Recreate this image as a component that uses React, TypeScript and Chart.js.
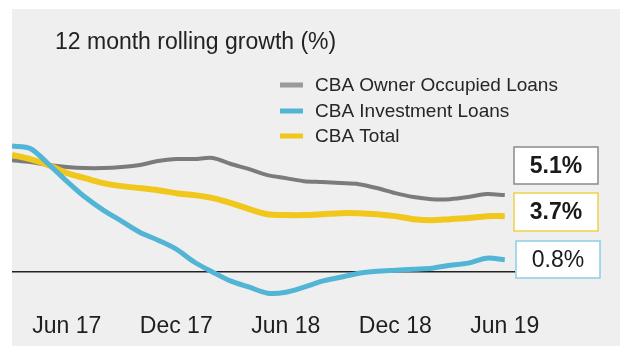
import React, { useEffect, useRef } from "react";
import { Chart, registerables } from "chart.js";

Chart.register(...registerables);

const months = [
  "Mar 17", "Apr 17", "May 17", "Jun 17", "Jul 17", "Aug 17", "Sep 17", "Oct 17", "Nov 17", "Dec 17",
  "Jan 18", "Feb 18", "Mar 18", "Apr 18", "May 18", "Jun 18", "Jul 18", "Aug 18", "Sep 18", "Oct 18",
  "Nov 18", "Dec 18", "Jan 19", "Feb 19", "Mar 19", "Apr 19", "May 19", "Jun 19",
];

const ownerOccupied = [
  7.43, 7.3, 7.1, 6.97, 6.9, 6.9, 6.97, 7.1, 7.37, 7.5,
  7.5, 7.57, 7.17, 6.83, 6.43, 6.23, 6.03, 5.97, 5.9, 5.83,
  5.57, 5.23, 4.97, 4.83, 4.83, 4.97, 5.17, 5.1,
];

const investment = [
  8.37, 8.2, 7.17, 6.03, 4.97, 4.1, 3.37, 2.63, 2.1, 1.5,
  0.63, -0.03, -0.63, -1.03, -1.43, -1.37, -1.03, -0.63, -0.37, -0.1,
  0.03, 0.1, 0.17, 0.23, 0.43, 0.57, 0.9, 0.8,
];

const total = [
  7.77, 7.5, 7.1, 6.57, 6.23, 5.9, 5.7, 5.57, 5.43, 5.23,
  5.1, 4.9, 4.57, 4.17, 3.83, 3.77, 3.77, 3.83, 3.9, 3.9,
  3.83, 3.7, 3.5, 3.43, 3.5, 3.57, 3.7, 3.7,
];

const tickLabels = ["Jun 17", "Dec 17", "Jun 18", "Dec 18", "Jun 19"];
const seriesNames = ["CBA Owner Occupied Loans", "CBA Investment Loans", "CBA Total"];
const endLabels = ["5.1%", "3.7%", "0.8%"];
const titleText = "12 month rolling growth (%)";

const FONT = "'Liberation Sans', Arial, sans-serif";
const GREY = "#7b7b7b";
const BLUE = "#52b5d5";
const YELLOW = "#f1c71c";

const decorPlugin = {
  id: "decor",
  beforeDraw(chart: any) {
    const ctx = chart.ctx;
    ctx.save();
    ctx.fillStyle = "#ffffff";
    ctx.fillRect(0, 0, chart.width, chart.height);
    ctx.fillStyle = "#efefef";
    ctx.fillRect(12, 9, 608, 337);
    // title
    ctx.fillStyle = "#222";
    ctx.font = `23px ${FONT}`;
    ctx.textBaseline = "alphabetic";
    ctx.textAlign = "left";
    ctx.fillText(titleText, 55, 49);
    // legend
    const legColors = ["#9a9a9a", BLUE, YELLOW];
    const legY = [85, 111, 136];
    ctx.font = `19px ${FONT}`;
    ctx.textBaseline = "middle";
    for (let i = 0; i < seriesNames.length; i++) {
      ctx.fillStyle = legColors[i];
      ctx.fillRect(280, legY[i] - 2.5, 23, 5);
      ctx.fillStyle = "#262626";
      ctx.fillText(seriesNames[i], 315, legY[i] + 1);
    }
    ctx.restore();
  },
  beforeDatasetsDraw(chart: any) {
    const ctx = chart.ctx;
    const y0 = chart.scales.y.getPixelForValue(0);
    ctx.save();
    ctx.strokeStyle = "#222";
    ctx.lineWidth = 1.5;
    ctx.beginPath();
    ctx.moveTo(chart.chartArea.left, y0);
    ctx.lineTo(chart.chartArea.right, y0);
    ctx.stroke();
    ctx.restore();
  },
  afterDraw(chart: any) {
    const ctx = chart.ctx;
    const boxes = [
      { x: 514, y: 147, w: 84, h: 37, c: "#8a8a8a", bold: true },
      { x: 514, y: 193, w: 84, h: 38, c: "#f0d24a", bold: true },
      { x: 516, y: 241, w: 84, h: 37, c: "#8fcde2", bold: false },
    ];
    ctx.save();
    for (let i = 0; i < boxes.length; i++) {
      const b = boxes[i];
      ctx.fillStyle = "#ffffff";
      ctx.fillRect(b.x, b.y, b.w, b.h);
      ctx.strokeStyle = b.c;
      ctx.lineWidth = 1.5;
      ctx.strokeRect(b.x, b.y, b.w, b.h);
      ctx.fillStyle = "#1a1a1a";
      ctx.font = `${b.bold ? "bold " : ""}23px ${FONT}`;
      ctx.textAlign = "center";
      ctx.textBaseline = "middle";
      ctx.fillText(endLabels[i], b.x + b.w / 2, b.y + b.h / 2 + 1);
    }
    ctx.restore();
  },
};

export default function App() {
  const ref = useRef<HTMLCanvasElement | null>(null);
  useEffect(() => {
    document.body.style.margin = "0";
    const toPts = (arr: number[]) => arr.map((v, i) => ({ x: i, y: v }));
    const chart = new Chart(ref.current as HTMLCanvasElement, {
      type: "line",
      data: {
        datasets: [
          { label: seriesNames[1], data: toPts(investment), borderColor: BLUE, borderWidth: 5, pointRadius: 0, tension: 0.3, order: 1 },
          { label: seriesNames[2], data: toPts(total), borderColor: YELLOW, borderWidth: 6, pointRadius: 0, tension: 0.3, order: 2 },
          { label: seriesNames[0], data: toPts(ownerOccupied), borderColor: GREY, borderWidth: 4, pointRadius: 0, tension: 0.3, order: 3 },
        ],
      },
      options: {
        animation: false,
        responsive: false,
        maintainAspectRatio: false,
        layout: { padding: { left: 12, right: 114, top: 140, bottom: 8.2 } },
        plugins: { legend: { display: false }, title: { display: false }, tooltip: { enabled: false } },
        scales: {
          x: {
            type: "linear",
            min: 0,
            max: 27.56,
            grid: { display: false, drawTicks: false },
            border: { display: false },
            afterBuildTicks: (scale: any) => {
              scale.ticks = tickLabels.map((_, i) => ({ value: months.indexOf(tickLabels[i]) }));
            },
            ticks: {
              autoSkip: false,
              maxRotation: 0,
              padding: 8,
              color: "#1e1e1e",
              font: { family: FONT, size: 23 },
              callback: (v: any) => months[v as number],
            },
          },
          y: { display: false, min: -2.23, max: 8.77 },
        },
      },
      plugins: [decorPlugin],
    });
    return () => chart.destroy();
  }, []);
  return (
    <div style={{ position: "absolute", left: 0, top: 0, width: 629, height: 357 }}>
      <canvas ref={ref} width={629} height={357} style={{ width: 629, height: 357 }} />
    </div>
  );
}
